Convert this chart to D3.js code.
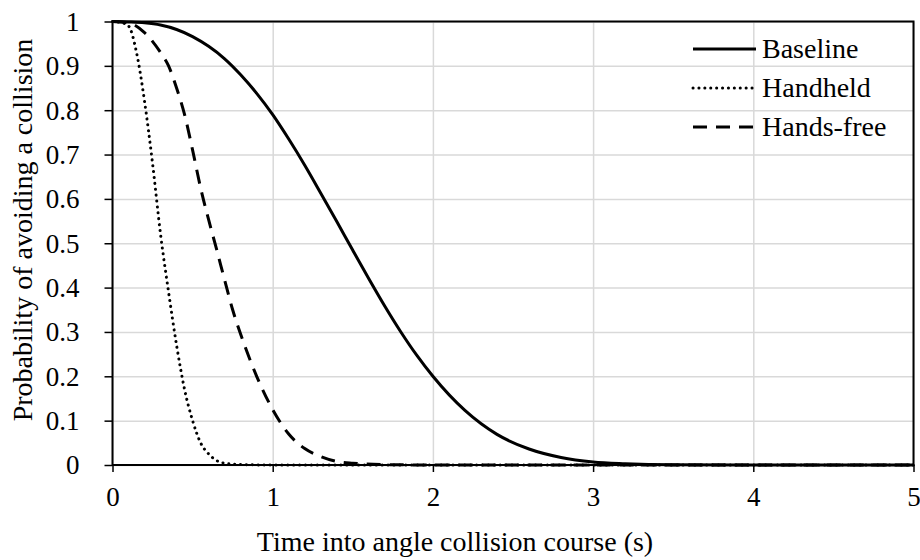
<!DOCTYPE html>
<html>
<head>
<meta charset="utf-8">
<script src="https://cdn.jsdelivr.net/npm/d3@7"></script>
<style>
  body { margin: 0; background: #fff; }
  svg { display: block; }
</style>
</head>
<body>
<svg width="920" height="560"></svg>
<script>
// values
const seriesNames = ['Baseline', 'Handheld', 'Hands-free'];

const baselineTime = [0, 0.1, 0.2, 0.3, 0.4, 0.5, 0.6, 0.7, 0.8, 0.9, 1.0, 1.1, 1.2, 1.3, 1.4, 1.5,
  1.6, 1.7, 1.8, 1.9, 2.0, 2.2, 2.4, 2.6, 2.8, 3.0, 3.2, 3.5, 4, 5];
const baselineProb = [1, 0.999, 0.997, 0.992, 0.982, 0.966, 0.944, 0.916, 0.88, 0.838, 0.79, 0.735, 0.676, 0.613, 0.549, 0.484,
  0.42, 0.358, 0.3, 0.247, 0.2, 0.123, 0.069, 0.036, 0.017, 0.007, 0.003, 0.0005, 0, 0];

const handheldTime = [0, 0.05, 0.1, 0.15, 0.2, 0.25, 0.3, 0.35, 0.4, 0.45, 0.5, 0.55, 0.6, 0.65, 0.7, 0.8, 1, 2, 3, 4, 5];
const handheldProb = [1, 0.998, 0.99, 0.93, 0.82, 0.68, 0.52, 0.39, 0.27, 0.17, 0.1, 0.05, 0.025, 0.01, 0.004, 0.001, 0, 0, 0, 0, 0];

const handsfreeTime = [0, 0.1, 0.2, 0.3, 0.35, 0.4, 0.45, 0.5, 0.55, 0.6, 0.65, 0.7, 0.75, 0.8, 0.85, 0.9,
  1.0, 1.1, 1.2, 1.3, 1.4, 1.5, 1.7, 2, 3, 4, 5];
const handsfreeProb = [1, 0.997, 0.975, 0.93, 0.9, 0.85, 0.79, 0.71, 0.625, 0.553, 0.486, 0.417, 0.35, 0.295, 0.245, 0.2,
  0.125, 0.07, 0.037, 0.019, 0.008, 0.004, 0.001, 0, 0, 0, 0];

const xTicks = [0, 1, 2, 3, 4, 5];
const yTicks = [0, 0.1, 0.2, 0.3, 0.4, 0.5, 0.6, 0.7, 0.8, 0.9, 1];

const xTitle = 'Time into angle collision course (s)';
const yTitle = 'Probability of avoiding a collision';

const serif = '"Liberation Serif", "Times New Roman", serif';

function whenLoaded(){

    const svg = d3.select('svg');
    const width = +svg.attr('width');
    const height = +svg.attr('height');

    const margin = {top: 21.5, right: 6.5, bottom: 95, left: 112.5};
    const innerWidth = width - margin.left - margin.right;
    const innerHeight = height - margin.top - margin.bottom;

    const xScale = d3.scaleLinear().domain([0, 5]).range([0, innerWidth]);
    const yScale = d3.scaleLinear().domain([0, 1]).range([innerHeight, 0]);

    const g = svg.append('g')
        .attr('transform', `translate(${margin.left},${margin.top})`);

    // gridlines
    g.append('g')
        .call(d3.axisLeft(yScale).tickValues(yTicks).tickSize(-innerWidth).tickFormat(''))
        .call(s => s.select('.domain').remove())
        .selectAll('line').attr('stroke', '#d9d9d9').attr('stroke-width', 1.5);

    g.append('g')
        .attr('transform', `translate(0,${innerHeight})`)
        .call(d3.axisBottom(xScale).tickValues(xTicks).tickSize(-innerHeight).tickFormat(''))
        .call(s => s.select('.domain').remove())
        .selectAll('line').attr('stroke', '#d9d9d9').attr('stroke-width', 1.5);

    // frame
    g.append('rect')
        .attr('width', innerWidth)
        .attr('height', innerHeight)
        .attr('fill', 'none')
        .attr('stroke', '#000')
        .attr('stroke-width', 2);

    // axes
    const yAxisG = g.append('g')
        .call(d3.axisLeft(yScale).tickValues(yTicks).tickSize(8).tickPadding(25).tickFormat(d => String(d)));
    yAxisG.select('.domain').remove();
    yAxisG.selectAll('line').attr('stroke', '#000').attr('stroke-width', 1.5);
    yAxisG.selectAll('text')
        .style('font-family', serif)
        .style('font-size', '27px')
        .attr('fill', '#000')
        .attr('dy', '0.33em');

    const xAxisG = g.append('g')
        .attr('transform', `translate(0,${innerHeight})`)
        .call(d3.axisBottom(xScale).tickValues(xTicks).tickSize(7).tickFormat(d => String(d)));
    xAxisG.select('.domain').remove();
    xAxisG.selectAll('line').attr('stroke', '#000').attr('stroke-width', 1.5);
    xAxisG.selectAll('text')
        .style('font-family', serif)
        .style('font-size', '27px')
        .attr('fill', '#000')
        .attr('y', 41)
        .attr('dy', 0);

    // series
    const series = [
        {name: seriesNames[0], time: baselineTime, prob: baselineProb, dash: null, cap: 'butt'},
        {name: seriesNames[1], time: handheldTime, prob: handheldProb, dash: '0.1,5.8', cap: 'round'},
        {name: seriesNames[2], time: handsfreeTime, prob: handsfreeProb, dash: '14,9', cap: 'butt'}
    ];

    const line = d3.line()
        .x(d => xScale(d[0]))
        .y(d => yScale(d[1]))
        .curve(d3.curveMonotoneX);

    series.forEach(s => {
        g.append('path')
            .datum(s.time.map((t, i) => [t, s.prob[i]]))
            .attr('fill', 'none')
            .attr('stroke', '#000')
            .attr('stroke-width', 3)
            .attr('stroke-linecap', s.cap)
            .attr('stroke-dasharray', s.dash)
            .attr('d', line);
    });

    // legend
    const legend = svg.append('g').attr('transform', 'translate(693,49)');
    series.forEach((s, i) => {
        const row = legend.append('g').attr('transform', `translate(0,${i * 39})`);
        row.append('line')
            .attr('x1', 0).attr('x2', 63)
            .attr('stroke', '#000')
            .attr('stroke-width', 3)
            .attr('stroke-linecap', s.cap)
            .attr('stroke-dasharray', s.dash);
        row.append('text')
            .attr('x', 69)
            .attr('y', 9)
            .style('font-family', serif)
            .style('font-size', '28px')
            .text(s.name);
    });

    // axis titles
    svg.append('text')
        .attr('x', 455)
        .attr('y', 551)
        .attr('text-anchor', 'middle')
        .style('font-family', serif)
        .style('font-size', '28px')
        .text(xTitle);

    svg.append('text')
        .attr('transform', 'translate(32,230) rotate(-90)')
        .attr('text-anchor', 'middle')
        .style('font-family', serif)
        .style('font-size', '28px')
        .text(yTitle);
}

window.onload = whenLoaded;
</script>
</body>
</html>
